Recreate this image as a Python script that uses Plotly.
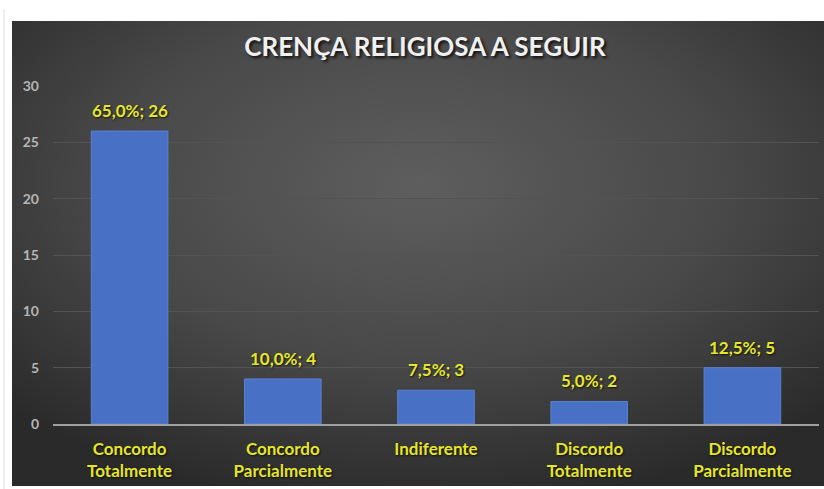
import plotly.graph_objects as go
import urllib.parse

categories = ["Concordo<br>Totalmente", "Concordo<br>Parcialmente", "Indiferente",
              "Discordo<br>Totalmente", "Discordo<br>Parcialmente"]
counts = [26, 4, 3, 2, 5]
percents = ["65,0%", "10,0%", "7,5%", "5,0%", "12,5%"]
y_ticks = [0, 5, 10, 15, 20, 25, 30]

W, H = 824, 489
L, R, T, B = 53, 5, 86, 65
pw, ph = W - L - R, H - T - B

def px_x(p):
    return (p - L) / pw

def px_y(p):
    return 1 - (p - T) / ph

svg = ("<svg xmlns='http://www.w3.org/2000/svg' width='812' height='466' preserveAspectRatio='none'>"
       "<defs><radialGradient id='g' cx='50%' cy='35%' r='70%'>"
       "<stop offset='0' stop-color='#5e5e5e'/><stop offset='0.55' stop-color='#484848'/>"
       "<stop offset='1' stop-color='#2a2a2a'/></radialGradient></defs>"
       "<rect width='812' height='466' fill='url(#g)'/></svg>")
src = "data:image/svg+xml;charset=utf-8," + urllib.parse.quote(svg)

yellow = "#e6e62c"
shadow = "1px 1px 2px rgba(0,0,0,0.7)"

fig = go.Figure(go.Bar(
    x=categories, y=counts,
    marker=dict(color="#4871c6", line=dict(color="#5a80d2", width=1)),
    width=0.5, hoverinfo="skip",
))

for c, v, p in zip(categories, counts, percents):
    fig.add_annotation(x=c, y=v, text=f"<b>{p}; {v}</b>", showarrow=False,
                       yanchor="bottom", yshift=8,
                       font=dict(family="Lato", size=17, color=yellow, shadow=shadow))

fig.update_layout(
    width=W, height=H,
    margin=dict(l=L, r=R, t=T, b=B),
    paper_bgcolor="white", plot_bgcolor="rgba(0,0,0,0)",
    showlegend=False,
    title=dict(text="<b>CRENÇA RELIGIOSA A SEGUIR</b>", x=425 / W, xanchor="center",
               y=1 - 47 / H, yanchor="middle",
               font=dict(family="Lato", size=26, color="#f0f0f0",
                         shadow="2px 2px 3px rgba(0,0,0,0.8)")),
    xaxis=dict(showgrid=False, showline=True, linecolor="#a0a0a0", linewidth=1.5,
               tickfont=dict(family="Lato", size=17, color=yellow, shadow=shadow,
                             weight="bold"),
               ticks="", ticklabelstandoff=9),
    yaxis=dict(range=[0, 30], tickvals=y_ticks, showgrid=True, gridcolor="#535353",
               gridwidth=1, zeroline=False, ticks="",
               tickfont=dict(family="Lato", size=14, color="#b5b5b5", weight="bold"),
               ticklabelstandoff=13),
    images=[dict(source=src, xref="paper", yref="paper",
                 x=px_x(12), y=px_y(21), sizex=(824 - 12) / pw, sizey=(486 - 21) / ph,
                 xanchor="left", yanchor="top", sizing="stretch", layer="below")],
    shapes=[dict(type="line", xref="paper", yref="paper", x0=px_x(4), x1=px_x(4),
                 y0=px_y(10), y1=px_y(489), line=dict(color="#dddddd", width=1))],
)

fig.write_html("out.html")
